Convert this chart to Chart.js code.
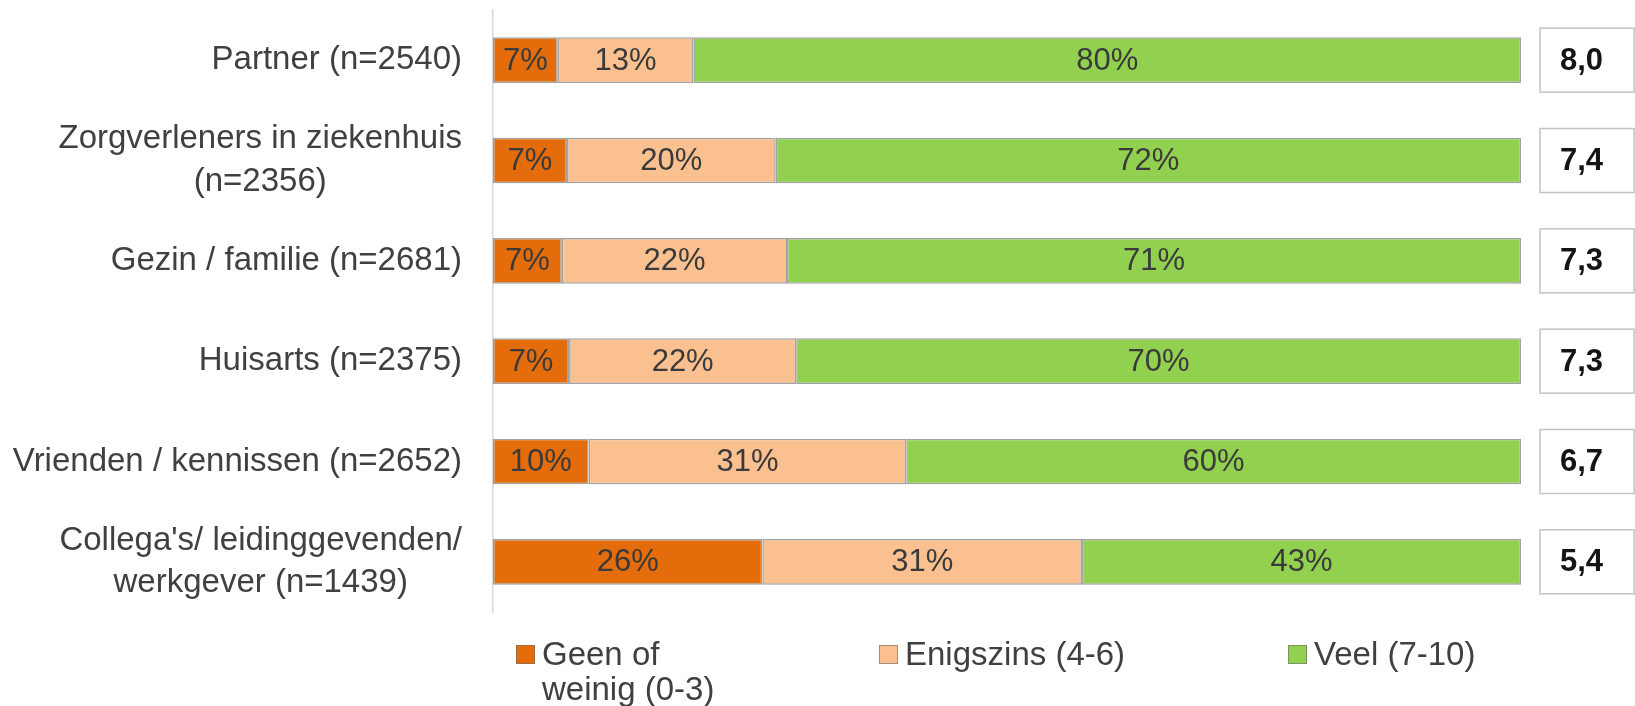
<!DOCTYPE html>
<html>
<head>
<meta charset="utf-8">
<script src="https://cdn.jsdelivr.net/npm/chart.js@4/dist/chart.umd.min.js"></script>
<style>
  html, body { margin: 0; padding: 0; background: #ffffff; }
  #wrap { width: 1635px; height: 706px; position: relative; }
</style>
</head>
<body>
<div id="wrap"><canvas id="c" width="1635" height="706"></canvas></div>
<script>
// ---- data ----
const categories = [
  ["Partner (n=2540)"],
  ["Zorgverleners in ziekenhuis", "(n=2356)"],
  ["Gezin / familie (n=2681)"],
  ["Huisarts (n=2375)"],
  ["Vrienden / kennissen (n=2652)"],
  ["Collega's/ leidinggevenden/", "werkgever (n=1439)"]
];
// segment shares as drawn
const geen = [6.3, 7.2, 6.7, 7.4, 9.3, 26.2];
const enigszins = [13.2, 20.3, 21.9, 22.1, 30.9, 31.1];
const veel = [80.5, 72.5, 71.4, 70.5, 59.8, 42.7];
// percentages printed in the bars
const geenLabels = ["7%", "7%", "7%", "7%", "10%", "26%"];
const enigszinsLabels = ["13%", "20%", "22%", "22%", "31%", "31%"];
const veelLabels = ["80%", "72%", "71%", "70%", "60%", "43%"];
const meanScores = ["8,0", "7,4", "7,3", "7,3", "6,7", "5,4"];
const seriesLabels = [["Geen of", "weinig (0-3)"], ["Enigszins (4-6)"], ["Veel (7-10)"]];

// ---- styling ----
const colors = ["#E46C0A", "#FAC090", "#92D050"];
const FONT = "'Liberation Sans', Arial, sans-serif";
const textColor = "#404040";

const series = [geen, enigszins, veel];
const seriesText = [geenLabels, enigszinsLabels, veelLabels];
const totals = categories.map((_, i) => series.reduce((s, arr) => s + arr[i], 0));
const norm = arr => arr.map((v, i) => v / totals[i] * 100);

const datasets = series.map((arr, k) => ({
  label: seriesLabels[k].join(" "),
  data: norm(arr),
  texts: seriesText[k],
  backgroundColor: colors[k],
  borderColor: "rgba(85,85,85,0.55)",
  borderWidth: 1.5,
  borderSkipped: false,
  barPercentage: 0.455,
  categoryPercentage: 1.0
}));

const overlay = {
  id: "overlay",
  afterDraw(chart) {
    const ctx = chart.ctx;
    const y = chart.scales.y;
    ctx.save();
    // category labels
    ctx.font = "33px " + FONT;
    ctx.fillStyle = textColor;
    ctx.textBaseline = "middle";
    const rightX = 462;
    const lh = 42.5;
    categories.forEach((lines, i) => {
      const cy = y.getPixelForValue(i);
      if (lines.length === 1) {
        ctx.textAlign = "right";
        ctx.fillText(lines[0], rightX, cy);
      } else {
        const maxW = Math.max(...lines.map(l => ctx.measureText(l).width));
        const cx = rightX - maxW / 2;
        ctx.textAlign = "center";
        lines.forEach((l, j) => {
          ctx.fillText(l, cx, cy + (j - (lines.length - 1) / 2) * lh);
        });
      }
    });

    // value labels inside the bars
    ctx.font = "31px " + FONT;
    ctx.textAlign = "center";
    ctx.fillStyle = "#3a3a3a";
    chart.data.datasets.forEach((ds, k) => {
      const meta = chart.getDatasetMeta(k);
      meta.data.forEach((bar, i) => {
        const cx = (bar.x + bar.base) / 2;
        ctx.fillText(ds.texts[i], cx, bar.y + 1);
      });
    });

    // mean score boxes
    ctx.font = "bold 31px " + FONT;
    ctx.textAlign = "left";
    meanScores.forEach((s, i) => {
      const cy = y.getPixelForValue(i);
      ctx.fillStyle = "#ffffff";
      ctx.fillRect(1540, cy - 32, 94, 64);
      ctx.strokeStyle = "#c4c4c4";
      ctx.lineWidth = 1.5;
      ctx.strokeRect(1540, cy - 32, 94, 64);
      ctx.fillStyle = "#151515";
      ctx.fillText(s, 1560, cy + 1);
    });

    // legend
    const lx = [516, 879, 1288];
    ctx.font = "33px " + FONT;
    seriesLabels.forEach((lines, k) => {
      ctx.fillStyle = colors[k];
      ctx.fillRect(lx[k], 645, 19, 19);
      ctx.strokeStyle = "rgba(110,110,110,0.6)";
      ctx.lineWidth = 1;
      ctx.strokeRect(lx[k] + 0.5, 645.5, 18, 18);
      ctx.fillStyle = textColor;
      ctx.textAlign = "left";
      lines.forEach((l, j) => ctx.fillText(l, lx[k] + 26, 656 + j * 35));
    });
    ctx.restore();
  }
};

new Chart(document.getElementById("c"), {
  type: "bar",
  data: { labels: categories.map(l => l.join(" ")), datasets },
  options: {
    indexAxis: "y",
    responsive: false,
    animation: false,
    devicePixelRatio: 1,
    layout: { padding: { left: 485, right: 114, top: 10, bottom: 94 } },
    plugins: { legend: { display: false }, tooltip: { enabled: false } },
    scales: {
      x: { stacked: true, min: 0, max: 100, display: false },
      y: {
        stacked: true,
        display: true,
        grid: { display: false },
        ticks: { display: false },
        border: { display: true, color: "#d9d9d9", width: 1.5 }
      }
    }
  },
  plugins: [overlay]
});
</script>
</body>
</html>
